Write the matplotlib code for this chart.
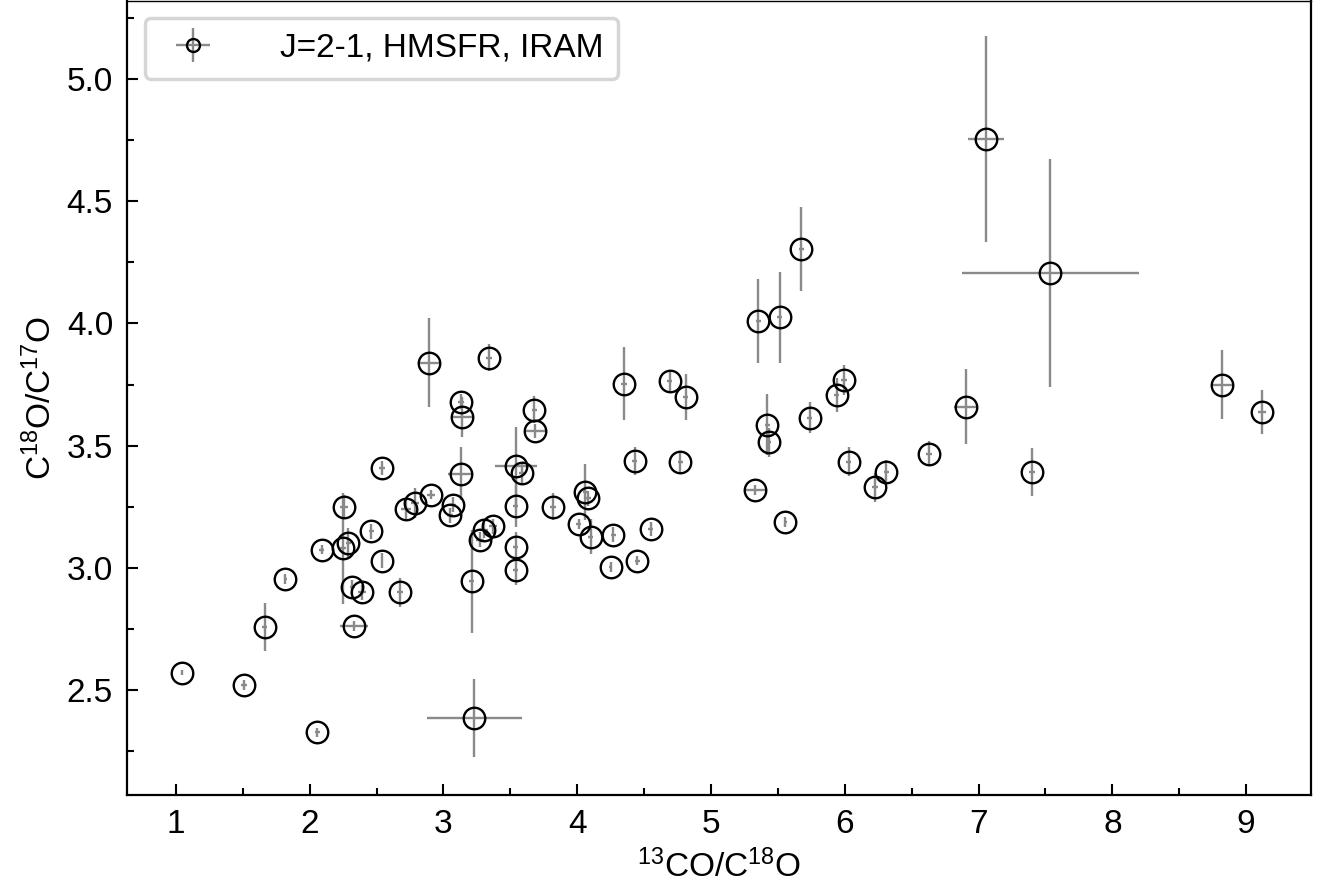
import matplotlib
matplotlib.use("Agg")
import matplotlib.pyplot as plt
from matplotlib.ticker import MultipleLocator

plt.rcParams['font.family'] = ['Liberation Sans', 'DejaVu Sans']
plt.rcParams['mathtext.fontset'] = 'custom'
plt.rcParams['mathtext.rm'] = 'Liberation Sans'
plt.rcParams['mathtext.it'] = 'Liberation Sans:italic'

x_ratio = [1.045, 1.51, 1.663, 1.817, 2.057, 2.09, 2.25, 2.26, 2.29, 2.32, 2.333, 2.39,
           2.46, 2.54, 2.54, 2.675, 2.72, 2.785, 2.89, 2.91, 3.05, 3.07, 3.13, 3.14,
           3.13, 3.21, 3.23, 3.27, 3.30, 3.34, 3.37, 3.54, 3.585, 3.54, 3.54, 3.54,
           3.68, 3.685, 3.82, 4.01, 4.06, 4.08, 4.10, 4.25, 4.27, 4.35, 4.43, 4.45,
           4.55, 4.69, 4.77, 4.81, 5.33, 5.354, 5.42, 5.43, 5.513, 5.555, 5.675, 5.737,
           5.94, 5.994, 6.03, 6.226, 6.31, 6.63, 6.905, 7.054, 7.40, 7.537, 8.823, 9.117]
y_ratio = [2.571, 2.52, 2.759, 2.953, 2.327, 3.075, 3.08, 3.25, 3.10, 2.92, 2.763, 2.90,
           3.15, 3.408, 3.03, 2.90, 3.24, 3.265, 3.84, 3.30, 3.215, 3.258, 3.68, 3.617,
           3.385, 2.945, 2.385, 3.116, 3.154, 3.86, 3.17, 3.416, 3.388, 3.252, 3.085, 2.99,
           3.647, 3.56, 3.25, 3.18, 3.31, 3.285, 3.128, 3.004, 3.136, 3.754, 3.437, 3.03,
           3.159, 3.765, 3.433, 3.70, 3.32, 4.01, 3.585, 3.514, 4.025, 3.187, 4.304, 3.615,
           3.706, 3.769, 3.435, 3.33, 3.392, 3.467, 3.66, 4.754, 3.392, 4.206, 3.75, 3.638]
x_err = [0.01, 0.02, 0.02, 0.01, 0.02, 0.02, 0.02, 0.03, 0.02, 0.02, 0.106, 0.03,
         0.02, 0.02, 0.01, 0.02, 0.04, 0.03, 0.075, 0.03, 0.02, 0.02, 0.02, 0.075,
         0.093, 0.02, 0.355, 0.03, 0.03, 0.02, 0.03, 0.158, 0.02, 0.02, 0.02, 0.02,
         0.02, 0.08, 0.02, 0.02, 0.02, 0.02, 0.02, 0.01, 0.02, 0.02, 0.02, 0.02,
         0.02, 0.02, 0.02, 0.02, 0.07, 0.02, 0.02, 0.02, 0.02, 0.01, 0.02, 0.02,
         0.02, 0.02, 0.02, 0.02, 0.02, 0.02, 0.085, 0.135, 0.02, 0.66, 0.075, 0.03]
y_err = [0.01, 0.02, 0.097, 0.02, 0.02, 0.02, 0.227, 0.05, 0.065, 0.03, 0.02, 0.03,
         0.03, 0.03, 0.03, 0.06, 0.04, 0.06, 0.18, 0.02, 0.03, 0.03, 0.03, 0.08,
         0.109, 0.21, 0.16, 0.03, 0.03, 0.055, 0.03, 0.16, 0.04, 0.085, 0.06, 0.06,
         0.055, 0.03, 0.056, 0.02, 0.115, 0.03, 0.07, 0.02, 0.03, 0.148, 0.058, 0.02,
         0.03, 0.04, 0.045, 0.095, 0.02, 0.172, 0.125, 0.06, 0.187, 0.02, 0.173, 0.063,
         0.07, 0.06, 0.06, 0.06, 0.05, 0.05, 0.155, 0.42, 0.1, 0.465, 0.141, 0.09]

legend_label = "J=2-1, HMSFR, IRAM"
x_label = r"$^{13}$CO/C$^{18}$O"
y_label = r"C$^{18}$O/C$^{17}$O"

fig = plt.figure(figsize=(13.42, 8.88), dpi=100)
ax = fig.add_axes([0.0946, 0.1047, 0.8824, 0.8943])

ax.errorbar(x_ratio, y_ratio, xerr=x_err, yerr=y_err, fmt='o', mfc='none',
            mec='black', mew=1.7, ms=15.5, ecolor='#8a8a8a', elinewidth=1.7,
            capsize=0, label=legend_label)

ax.set_xlim(0.634, 9.486)
ax.set_ylim(2.071, 5.319)
ax.xaxis.set_major_locator(MultipleLocator(1))
ax.xaxis.set_minor_locator(MultipleLocator(0.5))
ax.yaxis.set_major_locator(MultipleLocator(0.5))
ax.yaxis.set_minor_locator(MultipleLocator(0.25))
ax.yaxis.set_major_formatter(matplotlib.ticker.FormatStrFormatter('%.1f'))

ax.tick_params(which='both', direction='in', top=False, right=False, width=1.5)
ax.tick_params(which='major', length=8, labelsize=24, pad=10)
ax.tick_params(which='minor', length=5)
for side in ['left', 'bottom', 'right']:
    ax.spines[side].set_linewidth(1.6)
ax.spines['top'].set_linewidth(1.0)

ax.set_xlabel(x_label, fontsize=24, labelpad=7)
ax.set_ylabel(y_label, fontsize=24, labelpad=6)

leg = ax.legend(loc='upper left', fontsize=24, markerscale=0.6, frameon=True,
                fancybox=True, borderpad=0.45, handletextpad=1.6, borderaxespad=0,
                bbox_to_anchor=(0.015, 0.979))
leg.get_frame().set_edgecolor('#cccccc')
leg.get_frame().set_linewidth(2.5)

fig.savefig("out.png", dpi=100)
